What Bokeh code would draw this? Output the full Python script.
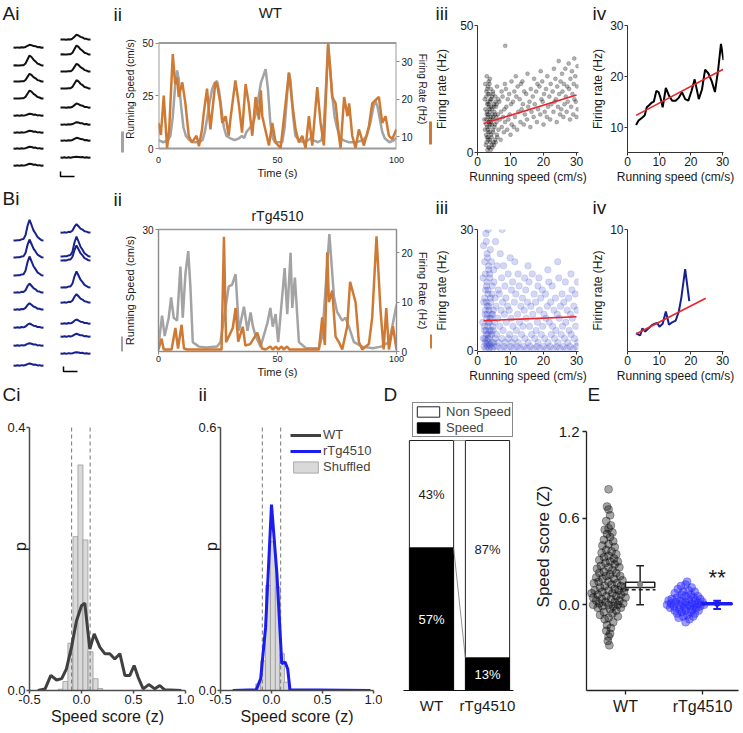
import math
from bokeh.plotting import figure
from bokeh.models import (Range1d, LinearAxis, Label, FixedTicker, Legend, LegendItem, Title)
from bokeh.layouts import row, column
from bokeh.embed import file_html
from bokeh.resources import INLINE

# ======================= DATA =======================
# --- A/B i : spike waveforms (template shape, channel baselines, amplitudes)
WAVE_X = [0, 2, 4, 6, 8, 10, 12, 14, 16, 18, 20, 22, 24, 26, 28, 30]
WAVE_JIT = [0, 0.3, -0.2, 0.4, -0.3, 0.2, 0, 0, 0, 0, 0.2, -0.3, 0.3, -0.2, 0.3, 0]
wt_template = [0, 0.05, -0.03, 0.04, 0.0, 0.05, 0.2, 0.6, 1.0, 0.85, 0.6, 0.38, 0.22, 0.1, 0.04, 0]
tg_template = [0, 0.02, 0, 0.03, 0.04, 0.08, 0.25, 0.7, 1.0, 0.75, 0.5, 0.32, 0.18, 0.08, 0.03, 0]
wt_col1_base = [47, 65, 81, 98, 115, 132, 148, 165]
wt_col1_amp = [2.7, 10, 7.7, 8, 1.7, 1.7, 1.7, 1.7]
wt_col2_base = [39, 54, 71, 88, 107, 124, 140, 157]
wt_col2_amp = [4.7, 9, 7.7, 8.3, 4, 2.3, 2.7, 0.7]
tg_col1_base = [240, 257, 275, 292, 309, 327, 345, 365]
tg_col1_amp = [20.7, 18, 19, 9, 6.3, 4, 2.3, 2]
tg_col2_base = [232, 256, 260, 287, 302, 323, 336, 353]
tg_col2_amp = [8.3, 20, 15, 16, 8.3, 4, 2.7, 1.3]

# --- Aii : WT running speed (cm/s) and firing rate (Hz) vs time (s)
wt_speed_t = [0, 2, 4, 5, 6, 7, 7.8, 8.5, 9.5, 10.5, 11.5, 13, 15, 17, 18.5, 19.5, 20.5, 21.5, 22.5, 23.5,
              24.6, 25.5, 26.5, 27.5, 28.5, 30, 32, 34, 35, 36, 37, 38.5, 40, 41, 42, 43, 45, 46, 47, 48,
              49, 52, 53, 54, 54.8, 55.5, 56.5, 57.5, 59, 61, 63, 64, 65, 67, 68.5, 69.5, 70.5, 71.2, 72, 73,
              74, 75, 76, 77.5, 80, 83, 86, 87.5, 89, 90, 91, 92, 93, 94, 95, 97, 99, 100]
wt_speed = [4, 3, 4, 6, 15, 30, 37, 33, 20, 10, 6, 4, 3, 3, 4, 8, 15, 22, 28, 31,
            32, 27, 18, 10, 6, 5, 4, 5, 6, 5, 8, 10, 13, 17, 24, 31, 37.6, 28, 12, 5,
            3, 3, 10, 25, 36, 32, 16, 6, 4, 3, 4, 5, 4, 3, 4, 12, 32, 49, 40, 25,
            15, 10, 6, 4, 3, 3, 4, 6, 12, 18, 23, 20, 14, 8, 5, 3, 4, 5]
wt_fr_t = [0, 1, 2.2, 3.6, 4.5, 6, 7, 7.8, 8.5, 10, 11.3, 12.7, 14, 16, 17, 18.3, 19, 20.4, 21.8, 23.9,
           24.6, 26, 26.8, 28.2, 29.5, 30.2, 32.3, 33.7, 35.1, 36.6, 37.9, 39.4, 40.8, 42.2, 43, 43.6,
           46.4, 47.8, 49.2, 51.3, 53.4, 54.8, 56.2, 57.6, 59, 60.4, 61.8, 63.2, 64.6, 66.7, 68.1, 69.5,
           71.3, 73, 74.4, 75.8, 76.5, 78, 79.4, 80.1, 81.4, 82.8, 84.2, 86.3, 88.4, 89.8, 92.6, 94,
           95.4, 96.8, 98.2, 100]
wt_fr = [13.7, 10.5, 21, 7, 12, 32, 24, 25.8, 20.6, 24.5, 18.9, 10.3, 8.5, 10.3, 7.5, 12, 16.3, 22.8, 12, 24.5,
         24, 18.9, 13.7, 15.5, 10.3, 14.6, 25, 18.9, 11.1, 24, 18.9, 10.3, 20.6, 14.6, 22.4, 15.5,
         7.7, 13.7, 8.5, 7, 18.9, 27.1, 18.9, 12, 8.5, 10.3, 7, 15.5, 7.7, 23.2, 13.7, 7.7,
         34.9, 20.6, 18.9, 10.3, 7, 20.6, 15.5, 18.9, 10.3, 7, 12, 7.7, 12.8, 18.9, 20.6, 13.7,
         15.5, 10.3, 9.4, 12]

# --- Bii : rTg4510 running speed and firing rate
tg_speed_t = [0, 1.5, 2.6, 4.3, 5.3, 6.4, 7.8, 9.2, 10.2, 11.3, 12.5, 13.4, 14.4, 17, 20, 24.6, 26, 27.5, 29.5,
              30.9, 32.4, 33.8, 35.9, 37.4, 38.7, 39.7, 40.8, 42.9, 45.7, 47, 48, 49.2, 50.3, 53, 54.1,
              55.5, 56.2, 57.3, 59, 62, 67.4, 68.8, 71.8, 73.7, 75, 77.2, 78.6, 80, 82.1, 85.6, 90, 93.5,
              96.8, 98.2, 100]
tg_speed = [1.6, 8.8, 3.8, 8.3, 13.3, 8.3, 7.6, 20.9, 8.3, 19, 24.7, 16.0, 2.3, 1.2, 1.0, 1.2, 2.3, 8, 16,
            16.4, 19, 5.1, 11, 5.1, 9.6, 6.1, 3.8, 1.2, 6.9, 10.7, 6.1, 9.2, 2.3, 20.5, 9.2,
            24.3, 10.7, 18.2, 2.3, 0.8, 0.8, 3.8, 28.9, 13.6, 9.8, 7.6, 8.3, 6.1, 2.3, 1.2, 0.8, 1.2,
            2.3, 6.1, 11.5]
tg_fr_t = [0, 1.3, 2.2, 5.5, 7.1, 8.2, 9.7, 10.7, 12, 20, 26.5, 27.5, 28.4, 29.5, 31.2, 32.4, 33.5, 35.4,
           36.5, 38.5, 41.5, 43.5, 45, 47, 48, 49.3, 50.3, 51.8, 52.6, 54, 55, 67.4, 68.8, 69.9, 70.9,
           71.6, 73, 74.4, 75.8, 77.2, 79.3, 80.5, 82.8, 84.2, 85.6, 88.4, 89.8, 91.6, 93.3, 94.6, 95.7,
           96.8, 98.5, 100]
tg_fr = [0.4, 2.6, 0.4, 0.4, 4.75, 0.6, 5.4, 0.6, 0.4, 0.4, 0.4, 23.2, 1.9, 3.0, 4.75, 8.8, 2.0, 5.0,
         1.2, 1.5, 3.8, 0.6, 0.4, 1.0, 0.4, 1.0, 0.4, 1.0, 0.4, 1.0, 0.4, 0.4, 6.9, 1.3, 20.0,
         10.0, 12.3, 3.0, 1.9, 0.4, 5.1, 14.1, 10.0, 1.9, 0.4, 1.5, 6.9, 23.3, 8.2, 0.4, 8.8,
         0.4, 5.1, 0.4]

# --- Aiii / Biii : firing rate vs running speed samples (speed bin: list of rates)
wt_scatter_cols = {
    2.5: [3, 6, 9, 11, 13, 15, 17, 19, 21, 24, 27],
    3: [1, 2, 4, 5, 7, 8, 10, 12, 13, 14, 16, 18, 20, 22, 23, 25, 28, 30],
    3.5: [2, 4, 6, 8, 9, 11, 12, 14, 15, 17, 19, 21, 23, 26, 29],
    4: [1, 3, 5, 7, 10, 11, 13, 15, 16, 18, 20, 22, 25, 27],
    4.5: [2, 4, 6, 9, 12, 14, 17, 19, 21, 24],
    5: [3, 5, 8, 10, 13, 15, 18, 20, 23],
    5.5: [4, 7, 11, 14, 16, 19, 22],
    6: [6, 9, 12, 15, 18, 21, 26],
    7: [5, 10, 13, 16, 20, 24],
    8: [8, 12, 14, 17, 22, 27],
    8.4: [42],
    9: [9, 13, 18, 21, 25],
    10: [7, 11, 15, 19, 23, 28],
    11: [10, 14, 20, 24],
    12: [9, 16, 22, 26, 30],
    13: [12, 17, 21, 27],
    14: [11, 15, 19, 24, 28],
    15: [13, 18, 23, 31],
    16: [10, 16, 20, 25],
    17: [14, 19, 22, 29],
    18: [12, 17, 24, 27],
    19: [15, 21, 26, 32],
    20: [11, 16, 20, 23, 28],
    21: [14, 18, 25, 30],
    22: [13, 19, 22, 27],
    23: [16, 20, 24, 33],
    24: [12, 18, 21, 26, 29],
    25: [15, 17, 23, 28, 36],
    26: [14, 19, 24, 27, 31],
    27: [16, 20, 22, 26, 33],
    28: [13, 18, 25, 29, 35],
    29: [15, 21, 23, 27, 32, 37],
    30: [14, 17, 20, 26, 30, 34],
}
tg_scatter_cols = {
    2: [1, 2, 3, 5, 7, 9, 12, 15, 18, 22, 26],
    2.5: [0.5, 1.5, 3, 4, 6, 8, 10, 11, 13, 16, 19, 24, 29],
    3: [1, 2, 2.5, 4, 5, 7, 9, 10, 12, 14, 17, 20, 23, 27, 30],
    3.5: [0.5, 1.5, 3, 5, 6, 8, 11, 13, 15, 18, 21],
    4: [1, 2, 3.5, 5, 7, 9, 12, 16, 19, 22, 25],
    4.5: [0.5, 2, 4, 6, 8, 10, 14, 17],
    5: [1, 3, 5, 7, 9, 13, 20, 27],
    6: [1, 2, 4, 8, 11, 15, 21],
    7: [0.5, 3, 6, 10, 14, 18, 24, 30],
    8: [1, 2, 5, 9, 12, 16, 21],
    9: [0.5, 3, 7, 11, 13, 19],
    10: [1, 2, 4, 8, 10, 15, 23],
    11: [0.5, 3, 6, 12, 17, 22],
    12: [1, 2, 5, 9, 14, 19],
    13: [0.5, 4, 7, 11, 16],
    14: [1, 3, 6, 10, 13, 18],
    15: [0.5, 2, 8, 12, 15, 21],
    16: [1, 4, 6, 11, 17],
    17: [0.5, 3, 9, 14, 19],
    18: [1, 2, 5, 7, 12, 16],
    19: [0.5, 4, 10, 13, 18],
    20: [1, 3, 6, 9, 15],
    21: [0.5, 2, 8, 11, 14, 20],
    22: [1, 4, 7, 12, 17],
    23: [0.5, 3, 6, 10, 16],
    24: [1, 2, 5, 9, 13, 22],
    25: [0.5, 4, 8, 11, 18],
    26: [1, 3, 6, 12, 14],
    27: [0.5, 2, 7, 10, 17],
    28: [1, 4, 5, 9, 13, 19],
    29: [0.5, 3, 8, 11, 15],
    30: [1, 2, 6, 10, 14, 17],
}
# speed offsets of successive samples within a bin (read as spread around the bin centre)
SPEED_SPREAD = [0, 0.35, -0.25, 0.15, -0.4, 0.3, -0.1, 0.45, -0.3, 0.2, -0.15, 0.4, 0.05, -0.35, 0.25,
                -0.05, 0.38, -0.2]
wt_fit_x = [1.8, 30]
wt_fit_y = [11.4, 22.6]
tg_fit_x = [1.8, 30]
tg_fit_y = [7.4, 8.4]

# --- Aiv / Biv : speed tuning curves
wt_tune_x = [2.7, 3.5, 4.5, 5.4, 6.1, 6.8, 7.6, 8.3, 9.1, 9.8, 10.4, 11.1, 12.1, 13.1, 14.1, 15.2, 16.2,
             17.2, 18.2, 19.2, 20.2, 21.2, 22.5, 23.5, 24.5, 25.5, 26.6, 27.6, 28.6, 29.5, 30.3]
wt_tune_y = [10.4, 11.3, 11.8, 12.3, 13.9, 14.3, 14.8, 15.0, 17.1, 16.9, 15.8, 13.9, 17.7, 16.2, 15.2, 15.2,
             15.8, 16.9, 15.5, 15.2, 17.1, 19.4, 15.5, 17.4, 21.3, 20.6, 19.0, 16.9, 21.2, 26.4, 23.2]
wt_tfit_x = [2.7, 30.2]
wt_tfit_y = [12.3, 21.4]
tg_tune_x = [2.7, 3.5, 4.0, 4.7, 5.6, 6.4, 7.6, 8.6, 9.4, 10.1, 11.1, 12.1, 13.1, 14.1, 15.2, 16.2, 17.0,
             18.2, 19.5]
tg_tune_y = [1.56, 1.44, 1.36, 1.94, 1.69, 1.89, 2.19, 2.32, 2.39, 2.07, 2.32, 3.32, 2.24, 2.44, 2.57, 3.32,
             4.46, 6.78, 4.16]
tg_tfit_x = [2.7, 24.7]
tg_tfit_y = [1.49, 4.41]

# --- Ci / Cii : speed score distributions
ci_bins = [-0.2, -0.155, -0.107, -0.058, -0.01, 0.038, 0.087, 0.135, 0.18]
ci_hist = [0.002, 0.0137, 0.072, 0.234, 0.343, 0.229, 0.059, 0.018, 0.003]
ci_wt_x = [-0.42, -0.35, -0.295, -0.24, -0.19, -0.145, -0.096, -0.048, 0.0, 0.032, 0.08, 0.122, 0.176,
           0.224, 0.272, 0.32, 0.369, 0.417, 0.465, 0.506, 0.545, 0.593, 0.647, 0.705, 0.753, 0.80, 0.96]
ci_wt_y = [0.0, 0.0025, 0.023, 0.016, 0.018, 0.033, 0.066, 0.106, 0.129, 0.133, 0.063, 0.086, 0.066,
           0.056, 0.056, 0.048, 0.056, 0.023, 0.023, 0.038, 0.020, 0.0025, 0.009, 0.0025, 0.0076, 0.001, 0.0]
ci_thresh = [-0.095, 0.083]
cii_bins = [-0.13, -0.082, -0.034, 0.014, 0.062, 0.103, 0.143]
cii_hist = [0.015, 0.068, 0.24, 0.34, 0.236, 0.084, 0.019]
cii_tg_x = [-0.38, -0.15, -0.106, -0.058, 0.0, 0.053, 0.101, 0.133, 0.159, 0.181, 0.97]
cii_tg_y = [0, 0.0015, 0.027, 0.144, 0.424, 0.266, 0.061, 0.065, 0.049, 0.0015, 0]
cii_thresh = [-0.09, 0.09]

# --- D : proportion of speed cells (%)
d_groups = ["WT", "rTg4510"]
d_speed = [57, 13]
d_non = [43, 87]

# --- E : speed scores per cell
e_groups = ["WT", "rTg4510"]
wt_e_y = [0.80, 0.68, 0.66, 0.62, 0.58, 0.55, 0.53, 0.52, 0.50, 0.49, 0.47, 0.45, 0.44, 0.42, 0.41, 0.40,
          0.38, 0.37, 0.36, 0.35, 0.34, 0.33, 0.32, 0.31, 0.30, 0.30, 0.29, 0.28, 0.27, 0.26, 0.26, 0.25,
          0.24, 0.23, 0.22, 0.22, 0.21, 0.20, 0.20, 0.19, 0.18, 0.18, 0.17, 0.16, 0.16, 0.15, 0.15, 0.14,
          0.13, 0.13, 0.12, 0.12, 0.11, 0.10, 0.10, 0.10, 0.09, 0.09, 0.08, 0.08, 0.07, 0.07, 0.06, 0.06,
          0.05, 0.05, 0.04, 0.04, 0.03, 0.03, 0.02, 0.02, 0.01, 0.01, 0.0, 0.0, 0.0, -0.01, -0.01, -0.02,
          -0.02, -0.03, -0.04, -0.05, -0.06, -0.07, -0.08, -0.09, -0.10, -0.12, -0.14, -0.16, -0.18,
          -0.20, -0.22, -0.25, -0.28]
wt_e_dx = [0.0, -0.02, 0.0, 0.02, -0.03, 0.03, 0.0, -0.05, 0.05, -0.02, 0.02, -0.06, 0.06, 0.0, -0.08, 0.08,
           -0.03, 0.04, -0.09, 0.10, 0.0, -0.06, 0.07, -0.12, 0.02, 0.12, -0.04, 0.08, -0.10, 0.0, 0.14, -0.15,
           0.05, -0.06, 0.10, -0.12, 0.02, 0.15, -0.03, -0.16, 0.07, -0.08, 0.18, 0.0, -0.13, 0.11, -0.19, 0.04,
           -0.05, 0.16, -0.11, 0.21, 0.08, -0.18, 0.0, 0.13, -0.08, 0.20, -0.22, 0.05, -0.14, 0.16, -0.03, 0.10,
           -0.20, 0.22, -0.09, 0.03, 0.14, -0.16, 0.08, -0.04, 0.19, -0.12, 0.0, 0.12, -0.20, 0.06, -0.08, 0.16,
           -0.14, 0.02, 0.10, -0.06, 0.05, -0.11, 0.12, 0.0, -0.05, 0.06, -0.02, 0.03, -0.03,
           0.02, 0.0, -0.01, 0.01]
tg_e_y = [0.16, 0.14, 0.13, 0.12, 0.11, 0.10, 0.09, 0.09, 0.08, 0.07, 0.07, 0.06, 0.06, 0.05, 0.05, 0.04,
          0.04, 0.04, 0.03, 0.03, 0.03, 0.02, 0.02, 0.02, 0.01, 0.01, 0.01, 0.01, 0.0, 0.0, 0.0, 0.0, 0.0,
          -0.01, -0.01, -0.01, -0.02, -0.02, -0.02, -0.03, -0.03, -0.04, -0.04, -0.04, -0.05, -0.05, -0.06,
          -0.06, -0.07, -0.08, -0.08, -0.09, -0.10, -0.12]
tg_e_dx = [0.02, 0.0, -0.06, 0.08, -0.10, 0.04, -0.03, 0.12, -0.14, 0.07, -0.05, 0.16, 0.0, -0.11, 0.10, -0.18,
           0.04, 0.19, -0.07, 0.13, -0.22, 0.0, 0.22, -0.13, 0.08, -0.04, 0.17, -0.19, 0.02, 0.12, -0.09, 0.24,
           -0.24, 0.06, -0.15, 0.19, -0.02, 0.14, -0.20, 0.09, -0.08, 0.0, 0.17, -0.14, 0.07, -0.05, 0.12,
           -0.11, 0.02, -0.03, 0.10, -0.09, 0.05, 0.0]
# box summaries: q1, q3, median, mean, whisker low, whisker high
wt_box = [0.12, 0.157, 0.105, 0.14, 0.0, 0.27]
tg_box = [0.003, 0.012, 0.007, 0.008, -0.028, 0.028]

# ======================= STYLE / HELPERS =======================
FONT = "Liberation Sans"
GRAY = "#a3a3a3"
ORANGE = "#cf7a34"
RED = "#e8262a"
NAVY = "#17228c"
BLUE = "#1c1cf2"
DARK = "#404040"
TXT = "#1a1a1a"


def lin_range(v0, p0, v1, p1, pa, pb):
    """Range whose ends sit at pixels pa (start) and pb (end), given two value/pixel anchors."""
    k = (v1 - v0) / (p1 - p0)
    return Range1d(v0 + (pa - p0) * k, v0 + (pb - p0) * k)


def make_fig(w, h, bl, br, bt, bb, xr, yr, **kw):
    p = figure(width=w, height=h, x_range=xr, y_range=yr, output_backend="svg",
               toolbar_location=None, min_border_left=bl, min_border_right=br,
               min_border_top=bt, min_border_bottom=bb, **kw)
    p.outline_line_color = None
    p.grid.visible = False
    p.background_fill_color = "white"
    p.border_fill_color = "white"
    return p


def style_axis(ax, size="11px", color="#222222", tick_out=4, standoff=2, width=1):
    ax.axis_line_color = color
    ax.axis_line_width = width
    ax.major_tick_line_color = color
    ax.major_tick_line_width = width
    ax.major_tick_out = tick_out
    ax.major_tick_in = 0
    ax.minor_tick_line_color = None
    ax.major_label_text_font = FONT
    ax.major_label_text_font_size = size
    ax.major_label_text_color = TXT
    ax.major_label_standoff = standoff
    ax.axis_label_text_font = FONT
    ax.axis_label_text_font_style = "normal"
    ax.axis_label_text_color = TXT


def data_label(p, x, y, text, size, align="left", baseline="top", color=TXT, style="normal"):
    p.add_layout(Label(x=x, y=y, text=text, text_font=FONT, text_font_size=size, text_align=align,
                       text_baseline=baseline, text_color=color, text_font_style=style))


def letter_title(p, text, offset, standoff=0):
    t = Title(text=text, align="left", offset=offset, vertical_align="top", text_font=FONT,
              text_font_size="19px", text_font_style="normal", text_color=TXT)
    try:
        t.standoff = standoff
    except Exception:
        pass
    p.add_layout(t, "above")


def top_text_axis(p, xval, text, size, standoff):
    ax = LinearAxis(ticker=FixedTicker(ticks=[xval]), major_label_overrides={xval: text})
    ax.axis_line_color = None
    ax.major_tick_line_color = None
    ax.minor_tick_line_color = None
    ax.major_tick_out = 0
    ax.major_tick_in = 0
    ax.major_label_standoff = standoff
    ax.major_label_text_font = FONT
    ax.major_label_text_font_size = size
    ax.major_label_text_color = TXT
    p.add_layout(ax, "above")


def seg_axis(p, side, lo, hi, color, range_name="default"):
    ax = LinearAxis(ticker=FixedTicker(ticks=[]), bounds=(lo, hi), y_range_name=range_name)
    ax.axis_line_color = color
    ax.axis_line_width = 3
    ax.major_tick_line_color = None
    ax.minor_tick_line_color = None
    ax.major_tick_out = 0
    ax.major_tick_in = 0
    ax.major_label_standoff = 0
    p.add_layout(ax, side)


def flatten(cols):
    xs, ys = [], []
    for k, vals in cols.items():
        for i, v in enumerate(vals):
            xs.append(k + SPEED_SPREAD[i % len(SPEED_SPREAD)])
            ys.append(v)
    return xs, ys


# ======================= WAVEFORMS (Ai + Bi, one tall panel) =======================
pW = make_fig(121, 385, 0, 0, 0, 0, Range1d(0, 121), Range1d(385, 0),
              x_axis_location=None, y_axis_location=None)
for cols, tpl, color in [([(13, wt_col1_base, wt_col1_amp), (60, wt_col2_base, wt_col2_amp)], wt_template, "#111111"),
                         ([(13, tg_col1_base, tg_col1_amp), (60, tg_col2_base, tg_col2_amp)], tg_template, NAVY)]:
    xs, ys = [], []
    for x0, bases, amps in cols:
        for b, a in zip(bases, amps):
            xs.append([x0 + t for t in WAVE_X])
            ys.append([b - a * tv + j for tv, j in zip(tpl, WAVE_JIT)])
    pW.multi_line(xs, ys, line_color=color, line_width=2)
for bx, by in [(60, 176), (63, 371)]:
    pW.line([bx, bx, bx + 14], [by - 5, by, by], line_color="black", line_width=1.5)
data_label(pW, 2, 2, "Ai", "19px")
data_label(pW, 113, 3, "ii", "19px")
data_label(pW, 2, 187, "Bi", "19px")
data_label(pW, 113, 188, "ii", "19px")


# ======================= Aii / Bii traces =======================
def trace_fig(h, top, bottom, yr_spd, yr_fr, box, spd_t, spd, fr_t, fr, left_ticks, right_ticks,
              fr_bounds, spd_bounds, title, title_x, title_size, title_standoff, lab_size,
              seg_l, seg_r):
    p = make_fig(311, h, 37, 36, top, bottom, Range1d(0, 100), yr_spd)
    p.extra_y_ranges = {"fr": yr_fr}
    if box is not None:
        p.quad(left=[0], right=[100], bottom=[box[0]], top=[box[1]], fill_color=None,
               line_color="#9a9a9a", line_width=2)
    else:
        p.outline_line_color = "#9a9a9a"
        p.outline_line_width = 1.5
    p.line(spd_t, spd, line_color=GRAY, line_width=2.5)
    p.line(fr_t, fr, line_color=ORANGE, line_width=2.5, y_range_name="fr")
    ax_l = p.yaxis[0]
    ax_b = p.xaxis[0]
    ax_r = LinearAxis(y_range_name="fr", ticker=FixedTicker(ticks=right_ticks), bounds=fr_bounds)
    p.add_layout(ax_r, "right")
    ax_l.ticker = FixedTicker(ticks=left_ticks)
    ax_l.bounds = spd_bounds
    ax_b.ticker = FixedTicker(ticks=[0, 50, 100])
    for ax in (ax_l, ax_r, ax_b):
        style_axis(ax, "10px", "#8c8c8c", tick_out=3, standoff=2)
    if box is not None:
        for ax in (ax_l, ax_r, ax_b):
            ax.axis_line_color = None
        ax_b.major_tick_line_color = None
    ax_b.major_label_text_font_size = "9px"
    ax_b.major_label_standoff = 1
    ax_b.axis_label = "Time (s)"
    ax_b.axis_label_text_font_size = "11px"
    ax_b.axis_label_standoff = 1
    ax_l.axis_label = "Running Speed (cm/s)"
    ax_l.axis_label_text_font_size = lab_size
    ax_l.axis_label_standoff = 3
    ax_r.axis_label = "Firing Rate (Hz)"
    ax_r.axis_label_text_font_size = lab_size
    ax_r.axis_label_standoff = 1
    seg_axis(p, "left", seg_l[0], seg_l[1], GRAY)
    seg_axis(p, "right", seg_r[0], seg_r[1], ORANGE, "fr")
    top_text_axis(p, title_x, title, title_size, title_standoff)
    return p


# row A geometry: frames 25..155 ; row B: frames 223..355 (page pixels)
pAii = trace_fig(186, 25, 31, lin_range(0, 151, 50, 43, 155, 25), lin_range(10, 139, 30, 62, 155, 25),
                 (0, 50), wt_speed_t, wt_speed, wt_fr_t, wt_fr, [0, 25, 50], [10, 20, 30],
                 (6.9, 34.9), (0, 50), "WT", 47, "15px", 5, "10px", (-1.8, 8.3), (7.9, 14.2))
pBii = trace_fig(199, 37, 30, lin_range(0, 355, 30, 223, 355, 223), lin_range(0, 355, 20, 248, 355, 223),
                 None, tg_speed_t, tg_speed, tg_fr_t, tg_fr, [30], [0, 10, 20],
                 (0, 24.6), (0, 30), "rTg4510", 50, "14px", 6, "11px", (0, 3.6), (0.56, 3.36))


def scat_fig(h, top, bottom, yr, sx, sy, color, alpha, size, fit_x, fit_y, y_ticks, y_bounds, letter,
             letter_standoff):
    p = make_fig(156, h, 42, 10, top, bottom, lin_range(0, 474, 30, 576, 474, 578), yr)
    p.scatter(sx, sy, size=size, fill_color=color, fill_alpha=alpha, line_color=color,
              line_alpha=alpha * 0.6)
    p.line(fit_x, fit_y, line_color=RED, line_width=1.6)
    p.xaxis.ticker = FixedTicker(ticks=[0, 10, 20, 30])
    p.yaxis.ticker = FixedTicker(ticks=y_ticks)
    p.yaxis.bounds = y_bounds
    for ax in p.axis:
        style_axis(ax, "12px", "#333333", tick_out=3, standoff=1)
    p.xaxis.axis_label = "Running speed (cm/s)"
    p.yaxis.axis_label = "Firing rate (Hz)"
    p.axis.axis_label_text_font_size = "12px"
    p.xaxis.axis_label_standoff = 1
    p.yaxis.axis_label_standoff = 8
    letter_title(p, letter, -42, letter_standoff)
    return p


wt_sx, wt_sy = flatten(wt_scatter_cols)
tg_sx, tg_sy = flatten(tg_scatter_cols)
pAiii = scat_fig(186, 25, 31, lin_range(0, 155, 50, 25, 155, 25), wt_sx, wt_sy, "black", 0.3, 4,
                 wt_fit_x, wt_fit_y, [0, 50], (0, 50), "iii", 0)
pBiii = scat_fig(199, 37, 30, lin_range(0, 354, 30, 223, 355, 223), tg_sx, tg_sy, "#2b3cc7", 0.2, 6.5,
                 tg_fit_x, tg_fit_y, [0, 30], (0, 30), "iii", 20)


def tune_fig(h, top, bottom, yr, tx, ty, color, fx, fy, y_ticks, y_bounds, letter, letter_standoff):
    p = make_fig(154, h, 34, 19, top, bottom, lin_range(0, 622, 30, 722, 622, 723), yr)
    p.line(tx, ty, line_color=color, line_width=2)
    p.line(fx, fy, line_color=RED, line_width=1.6)
    p.xaxis.ticker = FixedTicker(ticks=[0, 10, 20, 30])
    p.yaxis.ticker = FixedTicker(ticks=y_ticks)
    p.yaxis.bounds = y_bounds
    for ax in p.axis:
        style_axis(ax, "12px", "#333333", tick_out=3, standoff=1)
    p.xaxis.axis_label = "Running speed (cm/s)"
    p.yaxis.axis_label = "Firing rate (Hz)"
    p.axis.axis_label_text_font_size = "12px"
    p.xaxis.axis_label_standoff = 1
    p.yaxis.axis_label_standoff = 2
    letter_title(p, letter, -35, letter_standoff)
    return p


pAiv = tune_fig(186, 25, 31, lin_range(10, 129, 30, 25, 155, 25), wt_tune_x, wt_tune_y, "black",
                wt_tfit_x, wt_tfit_y, [10, 20, 30], (5, 30), "iv", 0)
pBiv = tune_fig(199, 37, 30, lin_range(0, 355.7, 10, 223.3, 355, 223), tg_tune_x, tg_tune_y, NAVY,
                tg_tfit_x, tg_tfit_y, [0, 10], (0, 10), "iv", 20)

# ======================= ROW C (frames 402..690) =======================
C_TOP = 17
C_BOT = 42


def hist_fig(w, bl, br, bins, hist, thresh, y_max):
    p = make_fig(w, 347, bl, br, C_TOP, C_BOT, Range1d(-0.5, 1.0), lin_range(0, 690, y_max, 427, 690, 402))
    r_hist = p.vbar(x=bins, top=hist, width=0.048, fill_color="#d9d9d9", line_color="#9a9a9a",
                    line_width=0.8)
    p.segment(x0=thresh, y0=[0] * len(thresh), x1=thresh, y1=[y_max] * len(thresh),
              line_color="#777777", line_dash="4 3", line_width=1)
    p.xaxis.ticker = FixedTicker(ticks=[-0.5, 0, 0.5, 1.0])
    p.xaxis.major_label_overrides = {-0.5: "-0.5", 0: "0.0", 0.5: "0.5", 1.0: "1.0"}
    p.yaxis.ticker = FixedTicker(ticks=[0, y_max])
    p.yaxis.major_label_overrides = {0: "0.0", y_max: "%.1f" % y_max}
    p.yaxis.bounds = (0, y_max)
    for ax in p.axis:
        style_axis(ax, "13px", "#4d4d4d", tick_out=3, standoff=1, width=1.5)
    p.xaxis.axis_label = "Speed score (z)"
    p.xaxis.axis_label_text_font_size = "16px"
    p.xaxis.axis_label_standoff = 1
    p.yaxis.axis_label = "p"
    p.yaxis.axis_label_text_font_size = "16px"
    p.yaxis.axis_label_standoff = -25
    return p, r_hist


pCi, _ = hist_fig(194, 29, 9, ci_bins, ci_hist, ci_thresh, 0.4)
pCi.line(ci_wt_x, ci_wt_y, line_color=DARK, line_width=3)
letter_title(pCi, "Ci", -27, -8)

pCii, r_sh = hist_fig(188, 26, 9, cii_bins, cii_hist, cii_thresh, 0.6)
r_wt_leg = pCii.line([float("nan"), float("nan")], [float("nan"), float("nan")], line_color=DARK,
                     line_width=3)
r_tg = pCii.line(cii_tg_x, cii_tg_y, line_color=BLUE, line_width=3)
leg = Legend(items=[LegendItem(label="WT", renderers=[r_wt_leg]),
                    LegendItem(label="rTg4510", renderers=[r_tg]),
                    LegendItem(label="Shuffled", renderers=[r_sh])], location=(70, 216))
leg.border_line_color = None
leg.background_fill_alpha = 0
leg.glyph_width = 31
leg.glyph_height = 14
leg.label_height = 14
leg.label_text_font = FONT
leg.label_text_font_size = "13px"
leg.label_standoff = 2
leg.spacing = 1
leg.padding = 0
leg.margin = 0
pCii.add_layout(leg)
letter_title(pCii, "ii", -22, -8)

# ---- D
pD = make_fig(136, 347, 0, 5, C_TOP, C_BOT, lin_range(1, 431, 2, 487, 382, 513),
              lin_range(0, 690, 100, 440, 690, 402), y_axis_location=None)
d_x = [1, 2]
d_tot = [s + n for s, n in zip(d_speed, d_non)]
BW = 0.79
r_non = pD.vbar(x=d_x, bottom=d_speed, top=d_tot, width=BW, fill_color="white", line_color="#222222",
                line_width=1)
r_spd = pD.vbar(x=d_x, bottom=0, top=d_speed, width=BW, fill_color="black", line_color="black",
                line_width=1)
pD.line([d_x[0] + BW / 2, d_x[1] - BW / 2], [d_speed[0], d_speed[1]], line_color="#777777", line_width=0.8)
pD.line([d_x[0] + BW / 2, d_x[1] - BW / 2], [d_tot[0], d_tot[1]], line_color="#777777", line_width=0.8)
for i in range(2):
    data_label(pD, d_x[i], d_speed[i] + d_non[i] / 2, "%d%%" % d_non[i], "13px", align="center",
               baseline="middle")
    data_label(pD, d_x[i], d_speed[i] / 2, "%d%%" % d_speed[i], "13px", align="center",
               baseline="middle", color="white")
pD.xaxis.ticker = FixedTicker(ticks=d_x)
pD.xaxis.major_label_overrides = {1: d_groups[0], 2: d_groups[1]}
pD.xaxis.bounds = (0.5, 2.46)
style_axis(pD.xaxis[0], "15px", "#111111", tick_out=0, standoff=6, width=1.2)
legD = Legend(items=[LegendItem(label="Non Speed", renderers=[r_non]),
                     LegendItem(label="Speed", renderers=[r_spd])], location=(30, 253))
legD.border_line_color = "#111111"
legD.border_line_width = 1.5
legD.background_fill_color = "white"
legD.glyph_width = 28
legD.glyph_height = 13
legD.label_height = 13
legD.label_text_font = FONT
legD.label_text_font_size = "13px"
legD.label_standoff = 4
legD.spacing = 1
legD.padding = 1
legD.margin = 0
pD.add_layout(legD)
letter_title(pD, "D", 1, -8)

# ---- E
pE = make_fig(224, 347, 68, 4, C_TOP, C_BOT, lin_range(1, 625, 2, 702, 586, 738),
              lin_range(-0.6, 691, 1.2, 431, 690, 402))
SW = 0.22   # swarm offset left of category
BX = 0.19   # box offset right of category
pE.scatter([1 - SW + d for d in wt_e_dx], wt_e_y, size=8, fill_color="black", fill_alpha=0.35,
           line_color="black", line_alpha=0.3)
pE.scatter([2 - SW + d for d in tg_e_dx], tg_e_y, size=8, fill_color="#2323ff", fill_alpha=0.45,
           line_color="#2323ff", line_alpha=0.3)
for cat, box, lc, lw in [(1, wt_box, "#222222", 1.5), (2, tg_box, BLUE, 2)]:
    c = cat + BX
    q1, q3, med, mean, lo, hi = box
    pE.segment([c, c - 0.05, c - 0.05], [lo, lo, hi], [c, c + 0.05, c + 0.05], [hi, lo, hi],
               line_color=lc, line_width=lw)
    pE.quad(left=[c - 0.19], right=[c + 0.19], bottom=[q1], top=[q3], fill_color="white",
            fill_alpha=0.0 if cat == 2 else 1.0, line_color=lc, line_width=lw)
    pE.segment([c - 0.2], [med], [c + 0.2], [med], line_color=lc, line_width=lw,
               line_dash="4 3" if cat == 1 else "solid")
    pE.scatter([c], [mean], size=6, fill_color="#888888" if cat == 1 else BLUE, line_color=None)
data_label(pE, 2 + BX, 0.19, "**", "22px", align="center", baseline="middle")
pE.xaxis.ticker = FixedTicker(ticks=[1, 2])
pE.xaxis.major_label_overrides = {1: e_groups[0], 2: e_groups[1]}
pE.yaxis.ticker = FixedTicker(ticks=[-0.6, 0, 0.6, 1.2])
pE.yaxis.major_label_overrides = {-0.6: "-0.6", 0: "0.0", 0.6: "0.6", 1.2: "1.2"}
pE.yaxis.bounds = (-0.6, 1.2)
style_axis(pE.xaxis[0], "16px", "#222222", tick_out=4, standoff=3, width=1.3)
style_axis(pE.yaxis[0], "15px", "#222222", tick_out=4, standoff=3, width=1.3)
pE.yaxis.axis_label = "Speed score (Z)"
pE.yaxis.axis_label_text_font_size = "17px"
pE.yaxis.axis_label_standoff = 3
letter_title(pE, "E", 1, -8)

top_block = row(pW, column(row(pAii, pAiii, pAiv), row(pBii, pBiii, pBiv)))
layout = column(top_block, row(pCi, pCii, pD, pE))

open("out.html", "w").write(file_html(layout, INLINE))
